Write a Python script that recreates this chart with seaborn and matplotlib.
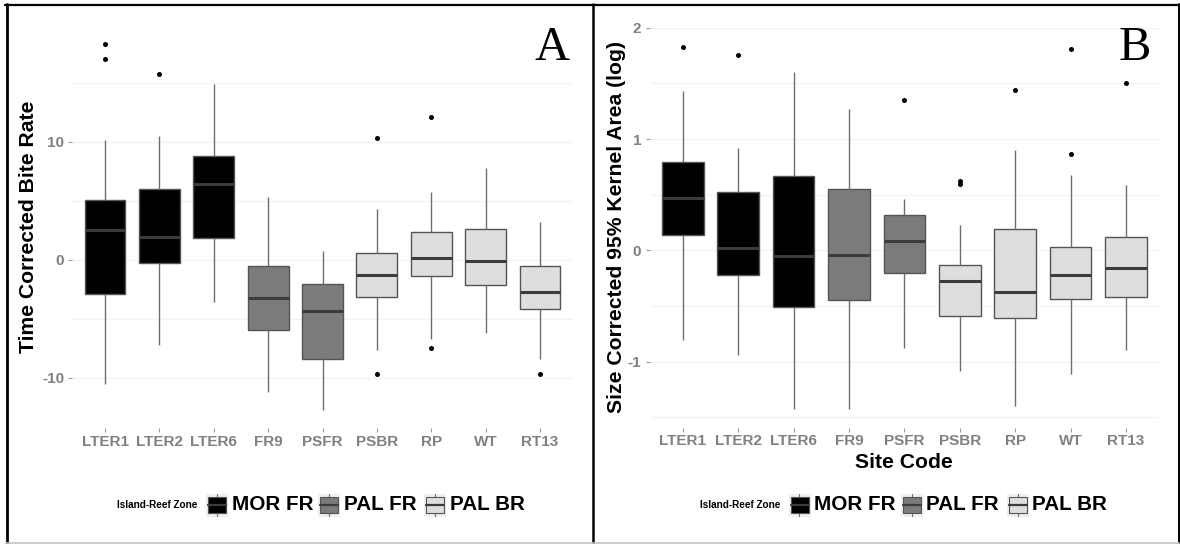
import numpy as np
import pandas as pd
import matplotlib
matplotlib.use("Agg")
import matplotlib.pyplot as plt
import seaborn as sns
from matplotlib.lines import Line2D
from matplotlib.patches import Rectangle

# ---------------------------------------------------------------- data
sites = ["LTER1", "LTER2", "LTER6", "FR9", "PSFR", "PSBR", "RP", "WT", "RT13"]
zones = ["MOR FR", "MOR FR", "MOR FR", "PAL FR", "PAL FR",
         "PAL BR", "PAL BR", "PAL BR", "PAL BR"]
zone_levels = ["MOR FR", "PAL FR", "PAL BR"]
zone_colors = ["#000000", "#7b7b7b", "#dedede"]

# Panel A: time corrected bite rate (whisker ends, quartiles, median)
bite_lo = [-10.5, -7.2, -3.6, -11.2, -12.7, -7.6, -6.7, -6.2, -8.4]
bite_q1 = [-2.9, -0.25, 1.9, -5.9, -8.4, -3.1, -1.4, -2.15, -4.15]
bite_med = [2.5, 1.95, 6.4, -3.25, -4.3, -1.25, 0.2, -0.05, -2.75]
bite_q3 = [5.05, 6.0, 8.85, -0.5, -2.05, 0.55, 2.35, 2.65, -0.55]
bite_hi = [10.15, 10.5, 14.9, 5.35, 0.8, 4.3, 5.8, 7.8, 3.2]
bite_out_sites = ["LTER1", "LTER1", "LTER2", "PSBR", "PSBR", "RP", "RP", "RT13"]
bite_out_vals = [18.3, 17.05, 15.75, 10.35, -9.65, 12.1, -7.5, -9.65]
bite_ticks = [-10, 0, 10]
bite_tick_labels = ["-10", "0", "10"]
bite_minor = [-5, 5, 15]

# Panel B: size corrected 95% kernel area (log)
area_lo = [-0.81, -0.94, -1.43, -1.43, -0.88, -1.08, -1.40, -1.11, -0.90]
area_q1 = [0.14, -0.22, -0.51, -0.45, -0.20, -0.59, -0.61, -0.44, -0.42]
area_med = [0.47, 0.02, -0.05, -0.04, 0.08, -0.28, -0.37, -0.22, -0.16]
area_q3 = [0.79, 0.52, 0.67, 0.55, 0.32, -0.13, 0.19, 0.03, 0.12]
area_hi = [1.43, 0.92, 1.60, 1.27, 0.46, 0.23, 0.90, 0.68, 0.59]
area_out_sites = ["LTER1", "LTER2", "PSFR", "PSBR", "PSBR", "RP", "WT", "WT", "RT13"]
area_out_vals = [1.83, 1.76, 1.35, 0.60, 0.62, 1.44, 1.81, 0.87, 1.50]
area_ticks = [-1, 0, 1, 2]
area_tick_labels = ["-1", "0", "1", "2"]
area_minor = [-1.5, -0.5, 0.5, 1.5]

# ---------------------------------------------------------------- style
sns.set_theme(style="white")
plt.rcParams["font.family"] = ["Liberation Sans", "DejaVu Sans"]

W, H = 1180, 544
fig = plt.figure(figsize=(W / 100, H / 100), dpi=100)
fig.patch.set_facecolor("white")

BOX_EDGE = "#555555"
WHISKER = "#6e6e6e"
MEDIAN = "#3c3c3c"
TICK_TXT = "#808080"
GRID = "#f3f3f3"


def fx(x):
    return x / W


def fy(y):
    return 1 - y / H


def summary_frame(lo, q1, med, q3, hi):
    rows = []
    for i, s in enumerate(sites):
        for v in (lo[i], q1[i], med[i], q3[i], hi[i]):
            rows.append({"site": s, "zone": zones[i], "value": v})
    return pd.DataFrame(rows)


def draw_panel(ax, df, out_sites, out_vals, ylim, ticks, tick_labels, minor):
    sns.boxplot(
        data=df, x="site", y="value", hue="zone", order=sites,
        hue_order=zone_levels, palette=dict(zip(zone_levels, zone_colors)),
        dodge=False, width=0.75, whis=(0, 100), saturation=1,
        linecolor=BOX_EDGE, linewidth=1.0, showfliers=False, legend=False,
        medianprops=dict(color=MEDIAN, linewidth=2.2),
        whiskerprops=dict(color=WHISKER, linewidth=1.0),
        capprops=dict(visible=False), ax=ax,
    )
    sns.stripplot(x=out_sites, y=out_vals, order=sites, jitter=False,
                  color="black", size=3.6, linewidth=0, ax=ax, zorder=5)
    ax.set_xlim(-0.6, len(sites) - 0.4)
    ax.set_ylim(*ylim)
    ax.set_yticks(ticks)
    ax.set_yticklabels(tick_labels)
    ax.set_yticks(minor, minor=True)
    ax.set_xticks(range(len(sites)))
    ax.set_xticklabels(sites)
    ax.set_xlabel("")
    ax.set_ylabel("")
    ax.set_facecolor("white")
    ax.set_axisbelow(True)
    ax.yaxis.grid(True, which="both", color=GRID, linewidth=1.0)
    ax.xaxis.grid(False)
    for sp in ax.spines.values():
        sp.set_visible(False)
    ax.tick_params(axis="both", which="major", bottom=True, left=True,
                   length=2.9, width=0.8, color="#9a9a9a",
                   labelcolor=TICK_TXT, labelsize=11.0)
    ax.tick_params(axis="y", which="major", pad=3.0)
    ax.tick_params(axis="x", which="major", pad=2.0)
    ax.tick_params(which="minor", length=0, left=False, bottom=False)
    for t in ax.get_xticklabels() + ax.get_yticklabels():
        t.set_fontweight("bold")


axA = fig.add_axes([fx(72.4), fy(428), 500.2 / W, 402 / H])
draw_panel(axA, summary_frame(bite_lo, bite_q1, bite_med, bite_q3, bite_hi),
           bite_out_sites, bite_out_vals, (-14.24, 19.83),
           bite_ticks, bite_tick_labels, bite_minor)

axB = fig.add_axes([fx(649.5), fy(427.6), 509.7 / W, 399.8 / H])
draw_panel(axB, summary_frame(area_lo, area_q1, area_med, area_q3, area_hi),
           area_out_sites, area_out_vals, (-1.593, 1.993),
           area_ticks, area_tick_labels, area_minor)

# axis titles
fig.text(fx(29), fy(227), "Time Corrected Bite Rate", rotation=90,
         ha="center", va="center", fontsize=15.2, fontweight="bold", color="black")
fig.text(fx(616), fy(227), "Size Corrected 95% Kernel Area (log)", rotation=90,
         ha="center", va="center", fontsize=15.2, fontweight="bold", color="black")
fig.text(fx(904), fy(462), "Site Code", ha="center", va="center",
         fontsize=15.2, fontweight="bold", color="black")

# panel letters
fig.text(fx(552), fy(59.5), "A", family="Liberation Serif", fontsize=35,
         ha="center", va="baseline", color="black")
fig.text(fx(1135), fy(59.5), "B", family="Liberation Serif", fontsize=35,
         ha="center", va="baseline", color="black")


def fig_line(x0, y0, x1, y1, **kw):
    fig.add_artist(Line2D([fx(x0), fx(x1)], [fy(y0), fy(y1)],
                          transform=fig.transFigure, **kw))


# legends below each panel
key_x = [206, 318, 424]
label_x = [232, 344, 450]


def draw_legend(base):
    fig.text(fx(base + 117), fy(505), "Island-Reef Zone", fontsize=7.2,
             fontweight="bold", ha="left", va="center", color="black")
    for k, (zone, col) in enumerate(zip(zone_levels, zone_colors)):
        kx = base + key_x[k]
        fig.add_artist(Rectangle((fx(kx), fy(517)), 22 / W, 23 / H,
                                 transform=fig.transFigure,
                                 facecolor="#efefef", edgecolor="none",
                                 zorder=1))
        # whisker stubs above and below the key box
        fig_line(kx + 11, 494, kx + 11, 497, color=WHISKER, linewidth=0.8, zorder=2)
        fig_line(kx + 11, 513, kx + 11, 516, color=WHISKER, linewidth=0.8, zorder=2)
        fig.add_artist(Rectangle((fx(kx + 2), fy(513)), 18 / W, 16 / H,
                                 transform=fig.transFigure, facecolor=col,
                                 edgecolor=BOX_EDGE, linewidth=0.8, zorder=3))
        fig_line(kx + 2, 505, kx + 20, 505, color=MEDIAN, linewidth=1.6, zorder=4)
        fig.text(fx(base + label_x[k]), fy(505), zone, fontsize=14.9,
                 fontweight="bold", ha="left", va="center", color="black")


draw_legend(0)
draw_legend(582.5)

# frames around the two panels
fig_line(5, 5, 1179, 5, color="black", linewidth=1.6)
fig_line(6.5, 4, 6.5, 543, color="black", linewidth=2.0)
fig_line(593, 4, 593, 543, color="black", linewidth=1.8)
fig_line(1179, 4, 1179, 543, color="black", linewidth=1.4)
fig_line(6, 542.5, 1179, 542.5, color="#c4c4c4", linewidth=1.2)

fig.savefig("out.png", dpi=100, facecolor="white")
